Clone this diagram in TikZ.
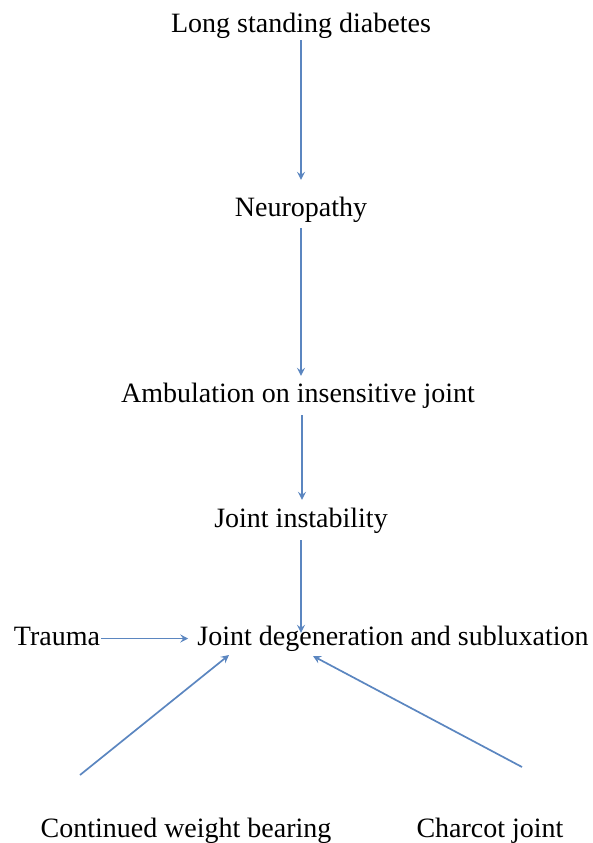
\documentclass[tikz,border=0pt]{standalone}
\usepackage{fontspec}
\setmainfont{Liberation Serif}
\usetikzlibrary{arrows.meta}
\definecolor{arrblue}{HTML}{5B86C0}
\begin{document}
\begin{tikzpicture}[x=1pt,y=-1pt,
  lbl/.style={anchor=base,inner sep=0pt,text height=19pt,text depth=6pt,font=\fontsize{28}{32}\selectfont},
  arr/.style={draw=arrblue,line width=1.7pt,-{Stealth[length=8pt,width=8pt,inset=3pt]}}]
\useasboundingbox (0,0) rectangle (593,843);
\node[lbl] (A) at (301,33) {Long standing diabetes};
\node[lbl] (B) at (301,216) {Neuropathy};
\node[lbl] (C) at (298,402) {Ambulation on insensitive joint};
\node[lbl] (D) at (301,527) {Joint instability};
\node[lbl] (E) at (393,645) {Joint degeneration and subluxation};
\node[lbl] (T) at (57,645) {Trauma};
\node[lbl] (F) at (186,837) {Continued weight bearing};
\node[lbl] (G) at (490,837) {Charcot joint};
\coordinate (f0) at (80,775);
\coordinate (g0) at (522,767);
\coordinate (e1) at (229,655);
\coordinate (e2) at (313,656);
\draw[arr,shorten <=1pt,shorten >=17pt] (A.south -| 301,0) -- (B.north -| 301,0);
\draw[arr,shorten <=6pt,shorten >=7pt] (B.south -| 301,0) -- (C.north -| 301,0);
\draw[arr,shorten <=7pt,shorten >=8pt] (C.south -| 302,0) -- (D.north -| 302,0);
\draw[arr,shorten <=7pt,shorten >=-7pt] (D.south -| 301,0) -- (E.north -| 301,0);
\draw[arr,shorten <=1pt,shorten >=9pt] (T.east) -- (T.east -| E.west);
\draw[arr] (f0) -- (e1);
\draw[arr] (g0) -- (e2);
\end{tikzpicture}
\end{document}
